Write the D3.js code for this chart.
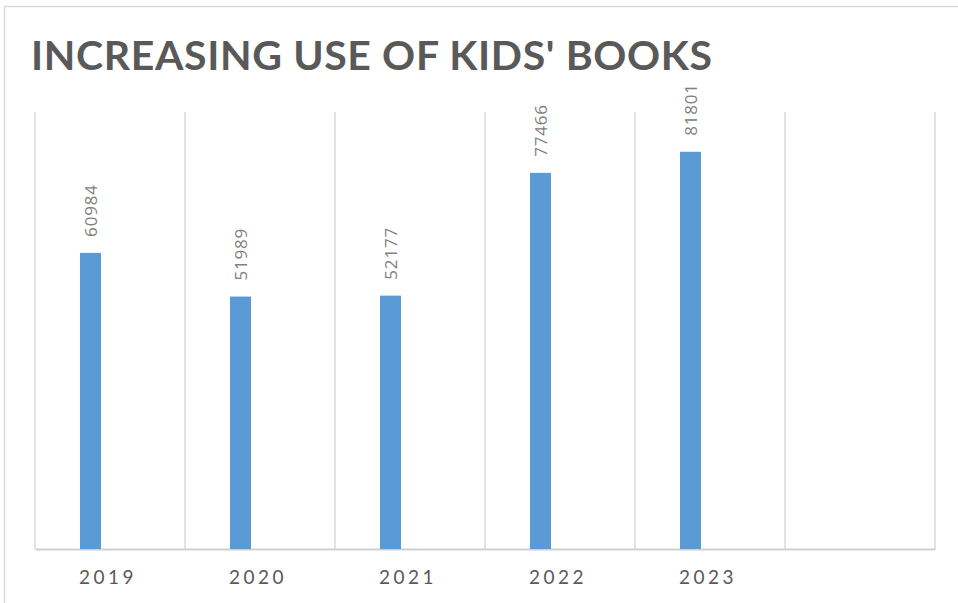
<!DOCTYPE html>
<html>
<head>
<meta charset="utf-8">
<script src="https://cdn.jsdelivr.net/npm/d3@7"></script>
<style>
  html, body { margin: 0; padding: 0; background: #fff; }
  svg { display: block; }
</style>
</head>
<body>
<svg id="chart" width="958" height="603"></svg>
<script>
// Yearly totals for the kids' books series
const years = ["2019", "2020", "2021", "2022", "2023", ""];
const usage = [60984, 51989, 52177, 77466, 81801, null];
const titleText = "INCREASING USE OF KIDS' BOOKS";

const svg = d3.select("#chart");
const W = 958, H = 603;
const plot = { left: 35, right: 935, top: 112, bottom: 549 };

// Outer chart frame (top and left edges visible)
svg.append("path")
  .attr("d", `M4.5,${H} V6.5 H${W}`)
  .attr("fill", "none")
  .attr("stroke", "#d9d9d9")
  .attr("stroke-width", 1.5);

// Title
svg.append("text")
  .attr("x", 31)
  .attr("y", 70)
  .attr("font-family", "Lato, sans-serif")
  .attr("font-weight", 700)
  .attr("font-size", 41)
  .attr("fill", "#595959")
  .attr("textLength", 681)
  .attr("lengthAdjust", "spacing")
  .text(titleText);

const x = d3.scaleBand()
  .domain(years.map((d, i) => i))
  .range([plot.left, plot.right])
  .paddingInner(0).paddingOuter(0);

const y = d3.scaleLinear()
  .domain([0, 90000])
  .range([plot.bottom, plot.top]);

// Vertical gridlines at category boundaries
const bounds = d3.range(years.length + 1).map(i => plot.left + i * x.step());
svg.append("g").selectAll("line")
  .data(bounds)
  .join("line")
  .attr("x1", d => d).attr("x2", d => d)
  .attr("y1", plot.top).attr("y2", plot.bottom)
  .attr("stroke", "#d9d9d9")
  .attr("stroke-width", 1.5);

// Category axis
const xAxis = d3.axisBottom(x)
  .tickSize(0)
  .tickFormat(i => years[i]);
const gx = svg.append("g")
  .attr("transform", `translate(0,${plot.bottom})`)
  .call(xAxis);
gx.select(".domain").attr("stroke", "#d0d0d0").attr("stroke-width", 2);
gx.selectAll("text")
  .attr("dy", null)
  .attr("y", 35)
  .attr("dx", -2)
  .attr("font-family", "Lato, sans-serif")
  .attr("font-size", 19)
  .attr("letter-spacing", 3.5)
  .attr("fill", "#595959");

// Bars sit in the first half of each category slot
const barOffset = 45, barWidth = 21;
const rows = years.map((yr, i) => ({ i, v: usage[i] })).filter(d => d.v != null);

svg.append("g").selectAll("rect")
  .data(rows)
  .join("rect")
  .attr("x", d => x(d.i) + barOffset)
  .attr("width", barWidth)
  .attr("y", d => y(d.v))
  .attr("height", d => y(0) - y(d.v))
  .attr("fill", "#5b9bd5");

// Value labels, rotated, above each bar
svg.append("g").selectAll("text")
  .data(rows)
  .join("text")
  .attr("transform", d => `translate(${x(d.i) + barOffset + barWidth / 2 + 6},${y(d.v) - 16}) rotate(-90)`)
  .attr("text-anchor", "start")
  .attr("font-family", "'Open Sans', sans-serif")
  .attr("font-size", 17)
  .attr("letter-spacing", 0.8)
  .attr("fill", "#808080")
  .text(d => d.v);
</script>
</body>
</html>
